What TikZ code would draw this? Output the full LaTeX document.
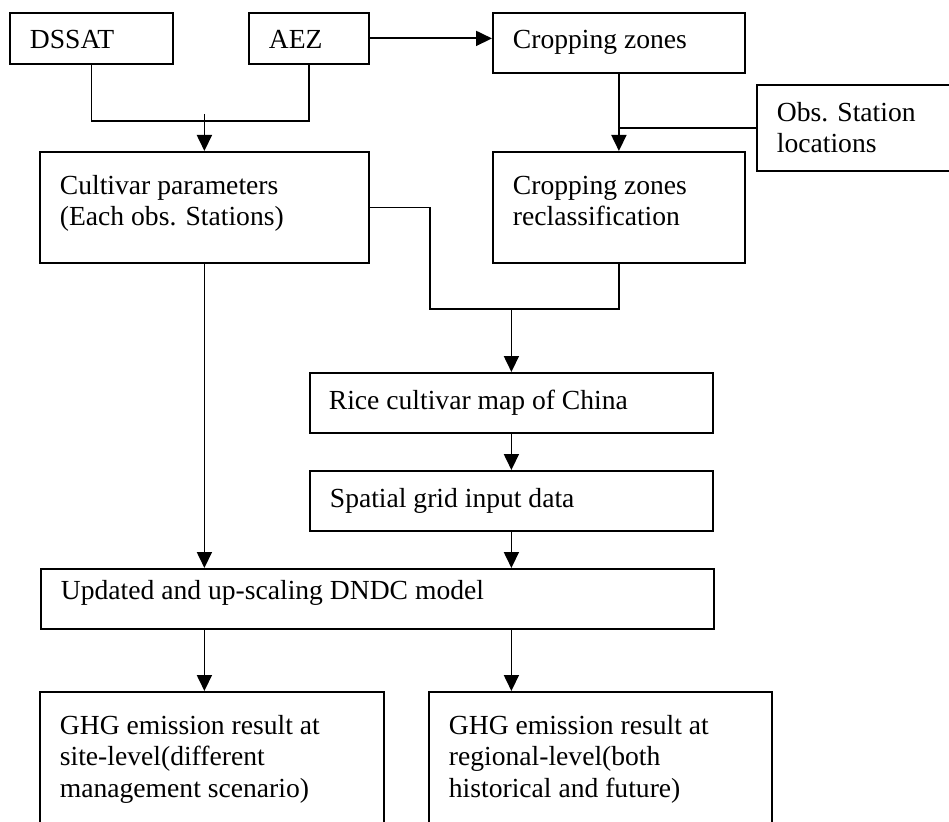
\documentclass[tikz,border=0pt]{standalone}
\usepackage{fontspec}
\setmainfont{Liberation Serif}
\usetikzlibrary{arrows.meta}
\usetikzlibrary{calc}

\tikzset{
  box/.style 2 args={draw, anchor=north west, minimum width=#1pt, minimum height=#2pt, inner sep=0pt},
  txt/.style={anchor=north west, align=left, inner sep=0pt, font=\fontsize{27.6}{31.5}\selectfont},
  arr/.style={-{Triangle[length=16pt,width=15pt]}}
}

\begin{document}
\begin{tikzpicture}[x=1pt, y=-1pt, line width=1.8pt]
        \useasboundingbox (0,0) rectangle (949,821);
        \clip (0,0) rectangle (949,821);

        % top row
        \node[box={163}{51}, label={[txt,shift={(20,17.5)}]north west:{DSSAT}}] (dssat) at (9,12) {};
        \node[box={120}{51}, label={[txt,shift={(20,17.5)}]north west:{AEZ}}] (aez) at (248,12) {};
        \node[box={252}{60}, label={[txt,shift={(20,17)}]north west:{Cropping zones}}] (crop) at (492,12) {};
        \node[box={204}{86}, label={[txt,shift={(20,17)}]north west:{Obs. Station\\locations}}] (obs) at (756,84) {};

        % second row
        \node[box={329}{111}, label={[txt,shift={(20,23)}]north west:{Cultivar parameters\\(Each obs. Stations)}}] (cult) at (39,151) {};
        \node[box={252}{111}, label={[txt,shift={(20,24)}]north west:{Cropping zones\\reclassification}}] (recl) at (492,151) {};

        % middle
        \node[box={403}{60}, label={[txt,shift={(19,17)}]north west:{Rice cultivar map of China}}] (rice) at (309,372) {};
        \node[box={403}{60}, label={[txt,shift={(20,17)}]north west:{Spatial grid input data}}] (spat) at (309,470) {};
        \node[box={673}{60}, label={[txt,shift={(20,11)}]north west:{Updated and up-scaling DNDC model}}] (upd) at (40,568) {};

        % results
        \node[box={344}{150}, label={[txt,shift={(20,23)}]north west:{GHG emission result at\\site-level(different\\management scenario)}}] (ghga) at (39,691) {};
        \node[box={343}{150}, label={[txt,shift={(20,23)}]north west:{GHG emission result at\\regional-level(both\\historical and future)}}] (ghgb) at (428,691) {};

        % connectors
        \coordinate (ja) at (cult.north |- 0,121);
        \coordinate (jb) at (430,309);
        \draw[arr] (aez.east) -- (aez.east -| crop.west);
        \draw (dssat.south) |- (ja) -| (aez.south);
        \draw[arr] ($(ja)+(0,-7)$) -- (cult.north);
        \draw[arr] (crop.south) -- (recl.north);
        \draw (obs.west) -- (obs.west -| crop.south);
        \draw (cult.east) -| (jb) -| (recl.south);
        \draw[arr] (rice.north |- jb) -- (rice.north);
        \draw[arr] (rice.south) -- (spat.north);
        \draw[arr] (spat.south) -- (spat.south |- upd.north);
        \draw[arr] (cult.south) -- (cult.south |- upd.north);
        \draw[arr] (cult.south |- upd.south) -- (cult.south |- ghga.north);
        \draw[arr] (spat.south |- upd.south) -- (spat.south |- ghgb.north);
    \end{tikzpicture}
\end{document}
